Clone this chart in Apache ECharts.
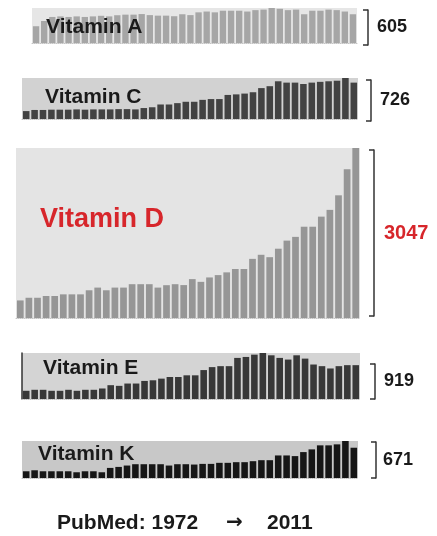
<!DOCTYPE html>
<html>
<head>
<meta charset="utf-8">
<script src="https://cdn.jsdelivr.net/npm/echarts@6/dist/echarts.min.js"></script>
<style>
  html, body { margin: 0; background: #fff; }
  #chart { width: 437px; height: 536px; }
</style>
</head>
<body>
<div id="chart"></div>
<script>
// publication counts per year, PubMed 1972 -> 2011
const years = [];
for (let y = 1972; y <= 2011; y++) years.push(String(y));

const vitaminA = [290, 380, 450, 460, 450, 460, 450, 460, 470, 460, 480, 490, 490, 500,
  482, 473, 473, 463, 497, 482, 530, 544, 530, 558, 558, 558, 544, 568, 577, 605,
  591, 568, 577, 497, 558, 558, 577, 568, 544, 497];
const vitaminC = [140, 160, 160, 165, 165, 165, 170, 165, 170, 170, 170, 175, 175, 170,
  194, 208, 257, 257, 281, 305, 305, 339, 353, 353, 426, 436, 450, 474, 547, 581,
  668, 644, 644, 620, 644, 658, 668, 678, 726, 644];
const vitaminD = [315, 363, 363, 394, 394, 424, 424, 424, 497, 545, 497, 545, 545, 606,
  606, 606, 545, 588, 606, 590, 697, 648, 727, 769, 818, 878, 878, 1060, 1133, 1090,
  1242, 1387, 1454, 1636, 1636, 1817, 1938, 2199, 2665, 3047];
const vitaminE = [164, 184, 184, 164, 164, 184, 164, 184, 184, 210, 276, 263, 309, 309,
  361, 374, 407, 440, 440, 473, 473, 578, 637, 656, 656, 821, 840, 886, 919, 873,
  821, 788, 873, 807, 689, 656, 610, 656, 676, 676];
const vitaminK = [122, 140, 122, 122, 122, 122, 104, 122, 122, 104, 183, 201, 226, 250,
  250, 250, 250, 226, 250, 250, 244, 256, 256, 275, 275, 287, 287, 305, 323, 323,
  409, 409, 397, 470, 519, 592, 592, 610, 671, 549];

const names = ["Vitamin A", "Vitamin C", "Vitamin D", "Vitamin E", "Vitamin K"];
const peaks = [605, 726, 3047, 919, 671];

const FONT = "'Liberation Sans', Arial, sans-serif";
const RED = "#d7262b";
const INK = "#1a1a1a";

// layout of each strip and of its bracket
const panels = [
  { data: vitaminA, left: 32, top: 8, width: 325, height: 35, bg: "#e6e6e6", bar: "#a6a6a6",
    bx: 369, btop: 10, bh: 35, gap: 8,
    titleX: 46, titleY: 26, titleSize: 21, color: INK, labelSize: 18 },
  { data: vitaminC, left: 22, top: 78, width: 336, height: 41, bg: "#d2d2d2", bar: "#424242",
    bx: 372, btop: 80, bh: 41, gap: 8,
    titleX: 45, titleY: 96, titleSize: 21, color: INK, labelSize: 18 },
  { data: vitaminD, left: 16, top: 148, width: 344, height: 170, bg: "#e4e4e4", bar: "#969696",
    bx: 375, btop: 150, bh: 166, gap: 9,
    titleX: 40, titleY: 218, titleSize: 27, color: RED, labelSize: 20 },
  { data: vitaminE, left: 22, top: 353, width: 338, height: 46, bg: "#d4d4d4", bar: "#383838",
    bx: 376, btop: 364, bh: 35, gap: 8,
    titleX: 43, titleY: 367, titleSize: 21, color: INK, labelSize: 18, axis: true },
  { data: vitaminK, left: 22, top: 441, width: 336, height: 37, bg: "#c8c8c8", bar: "#161616",
    bx: 377, btop: 442, bh: 36, gap: 6,
    titleX: 38, titleY: 453, titleSize: 21, color: INK, labelSize: 18 }
];

const n = panels.length;
const chart = echarts.init(document.getElementById("chart"));

const grids = [], xAxes = [], yAxes = [];
panels.forEach((p, i) => {
  grids.push({ left: p.left, top: p.top, width: p.width, height: p.height,
    show: true, backgroundColor: p.bg, borderWidth: 0 });
  xAxes.push({ type: "category", gridIndex: i, data: years,
    axisLine: { show: true, lineStyle: { color: "#c4c4c4", type: "dotted" } },
    axisTick: { show: false }, axisLabel: { show: false } });
  yAxes.push({ type: "value", gridIndex: i, min: 0, max: peaks[i],
    axisLine: { show: !!p.axis, lineStyle: { color: "#333", width: 1.5 } },
    axisTick: { show: false }, axisLabel: { show: false }, splitLine: { show: false } });
});
// bracket "]" with the peak count beside it
panels.forEach((p, i) => {
  grids.push({ left: p.bx - 1, top: p.btop, width: 1, height: p.bh });
  xAxes.push({ type: "value", gridIndex: n + i, show: false, min: 0, max: 1 });
  yAxes.push({ type: "value", gridIndex: n + i, position: "right",
    min: 0, max: peaks[i], interval: peaks[i],
    axisLine: { show: true, lineStyle: { color: "#333", width: 1.5 } },
    axisTick: { show: true, inside: true, length: 5, lineStyle: { color: "#333", width: 1.5 } },
    axisLabel: { show: false }, splitLine: { show: false },
    name: String(peaks[i]), nameLocation: "middle", nameRotate: 0, nameGap: p.gap,
    nameTextStyle: { color: p.color, fontSize: p.labelSize, fontWeight: "bold",
      fontFamily: FONT, align: "left", verticalAlign: "middle" } });
});

const footStyle = { color: INK, fontSize: 21, fontWeight: "bold", fontFamily: FONT };

chart.setOption({
  animation: false,
  backgroundColor: "#fff",
  title: panels.map((p, i) => ({
    text: names[i], left: p.titleX, top: p.titleY - p.titleSize * 0.45, padding: 0,
    textStyle: { color: p.color, fontSize: p.titleSize, fontWeight: "bold", fontFamily: FONT }
  })).concat([
    { text: "PubMed: 1972", left: 57, top: 513, padding: 0, textStyle: footStyle },
    { text: "→", left: 226, top: 513, padding: 0,
      textStyle: Object.assign({}, footStyle, { fontFamily: "'DejaVu Sans', sans-serif", fontSize: 20 }) },
    { text: "2011", left: 267, top: 513, padding: 0, textStyle: footStyle }
  ]),
  grid: grids,
  xAxis: xAxes,
  yAxis: yAxes,
  series: panels.map((p, i) => ({
    type: "bar", name: names[i], xAxisIndex: i, yAxisIndex: i,
    data: p.data, barCategoryGap: "22%", silent: true,
    itemStyle: { color: p.bar }
  }))
});
</script>
</body>
</html>
